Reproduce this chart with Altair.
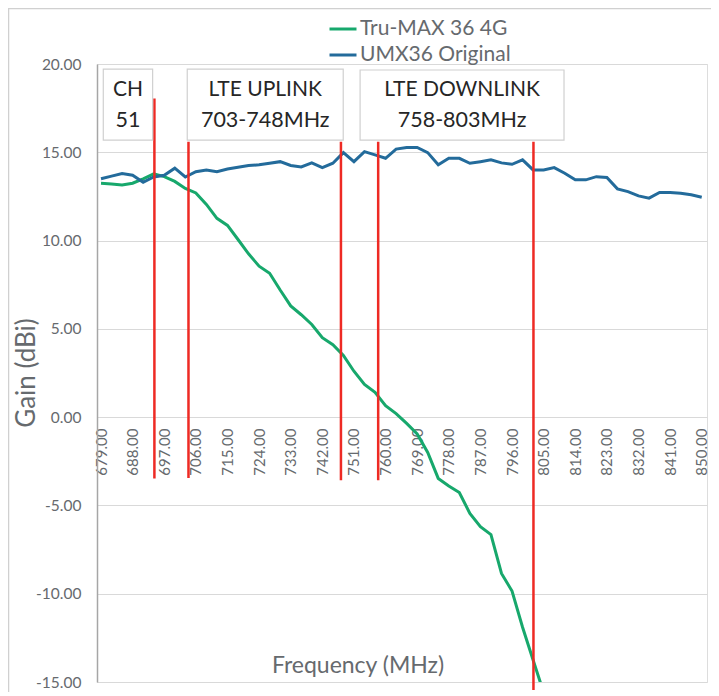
import altair as alt
import pandas as pd

freqs = [679, 682, 685, 688, 691, 694, 697, 700, 703, 706, 709, 712, 715, 718, 721,
         724, 727, 730, 733, 736, 739, 742, 745, 748, 751, 754, 757, 760, 763, 766,
         769, 772, 775, 778, 781, 784, 787, 790, 793, 796, 799, 802, 805, 808, 811,
         814, 817, 820, 823, 826, 829, 832, 835, 838, 841, 844, 847, 850]

umx36 = [13.50, 13.65, 13.80, 13.70, 13.30, 13.60, 13.70, 14.10, 13.60, 13.90,
         14.00, 13.90, 14.05, 14.15, 14.25, 14.29, 14.38, 14.47, 14.25, 14.17,
         14.40, 14.13, 14.38, 14.98, 14.47, 15.04, 14.85, 14.66, 15.18, 15.27,
         15.27, 14.98, 14.29, 14.66, 14.66, 14.38, 14.47, 14.57, 14.40, 14.32,
         14.57, 14.00, 14.00, 14.13, 13.81, 13.44, 13.44, 13.62, 13.57, 12.93,
         12.77, 12.53, 12.40, 12.72, 12.72, 12.68, 12.59, 12.45]

trumax = [13.25, 13.21, 13.15, 13.25, 13.50, 13.78, 13.62, 13.35, 12.95, 12.70,
          12.05, 11.26, 10.86, 10.06, 9.25, 8.55, 8.15, 7.20, 6.30, 5.80,
          5.25, 4.50, 4.10, 3.50, 2.60, 1.85, 1.40, 0.65, 0.20, -0.35,
          -0.95, -2.00, -3.47, -3.90, -4.27, -5.45, -6.20, -6.65, -8.85, -9.85,
          -11.90, -13.75, -15.60]

series_names = ["Tru-MAX 36 4G", "UMX36 Original"]
series_colors = ["#17A86C", "#236B9B"]

tick_freqs = [679, 688, 697, 706, 715, 724, 733, 742, 751, 760, 769, 778, 787,
              796, 805, 814, 823, 832, 841, 850]
gain_ticks = [-15, -10, -5, 0, 5, 10, 15, 20]

# red marker lines (MHz, top gain, bottom gain)
marker_freq = [694.2, 703.9, 747.3, 757.9, 802.1]
marker_top = [18.05, 15.59, 15.59, 15.59, 15.59]
marker_bottom = [-3.47, -3.44, -3.57, -3.57, -15.46]

# annotation boxes
box_x1 = [679.65, 703.55, 752.75]
box_x2 = [693.7, 747.95, 810.8]
box_top = [19.71, 19.71, 19.66]
box_bottom = [15.69, 15.69, 15.69]
box_line1 = ["CH", "LTE UPLINK", "LTE DOWNLINK"]
box_line2 = ["51", "703-748MHz", "758-803MHz"]

rows = []
for f, g in zip(freqs, trumax):
    rows.append({"freq": f, "gain": g, "series": series_names[0]})
for f, g in zip(freqs, umx36):
    rows.append({"freq": f, "gain": g, "series": series_names[1]})
df = pd.DataFrame(rows)

markers = pd.DataFrame({"freq": marker_freq, "top": marker_top, "bottom": marker_bottom})
boxes = pd.DataFrame({"x1": box_x1, "x2": box_x2, "top": box_top, "bottom": box_bottom,
                      "l1": box_line1, "l2": box_line2})
boxes["xc"] = (boxes["x1"] + boxes["x2"]) / 2

FONT = "Lato"
GRAY = "#666A6E"
W, H = 610, 618
ymin, ymax = -15, 20
zero_offset = -(H * (0 - ymin) / (ymax - ymin))
zero_from_top = H * (ymax - 0) / (ymax - ymin)

xscale = alt.Scale(domain=[677.86, 851.5], nice=False, zero=False)
yscale = alt.Scale(domain=[ymin, ymax], nice=False, zero=False)

x_axis = alt.Axis(values=tick_freqs, format=".2f", labelAngle=-90, labelFontSize=15,
                  labelColor=GRAY, labelFont=FONT, ticks=False, domain=False, grid=False,
                  offset=zero_offset, labelPadding=11, labelFlush=False, labelOverlap=False,
                  labelBound=False, labelSeparation=0,
                  title="Frequency (MHz)", titleFontSize=23, titleColor=GRAY, titleFont=FONT,
                  titleFontWeight="normal", titleX=260.5, titleY=601 - zero_from_top,
                  titleAlign="center", titleBaseline="middle")
y_axis = alt.Axis(values=gain_ticks, format=".2f",
                  labelExpr="replace(format(datum.value, '.2f'), '\u2212', '-')",
                  grid=True, gridColor="#D9D9D9",
                  gridWidth=1, domainColor="#A6A6A6", domainWidth=1.5, ticks=False,
                  labelPadding=16, labelFontSize=15.5, labelColor=GRAY, labelFont=FONT,
                  title="Gain (dBi)", titleFontSize=26, titleColor=GRAY, titleFont=FONT,
                  titleFontWeight="normal", titleX=-71, titleY=308.5, titleAngle=270,
                  titleAlign="center", titleBaseline="middle")

lines = alt.Chart(df).mark_line(strokeWidth=3, clip=True).encode(
    x=alt.X("freq:Q", scale=xscale, axis=x_axis),
    y=alt.Y("gain:Q", scale=yscale, axis=y_axis),
    color=alt.Color("series:N",
                    scale=alt.Scale(domain=series_names, range=series_colors),
                    sort=series_names,
                    legend=alt.Legend(orient="none", legendX=231, legendY=-50, title=None,
                                      symbolType="stroke", symbolSize=729,
                                      symbolStrokeWidth=3, labelFontSize=21,
                                      labelColor=GRAY, labelFont=FONT, rowPadding=1,
                                      padding=0, labelOffset=2)),
    detail="series:N",
)

rules = alt.Chart(markers).mark_rule(color="#EE2A24", strokeWidth=2.5).encode(
    x=alt.X("freq:Q", scale=xscale, axis=x_axis),
    y=alt.Y("top:Q", scale=yscale, axis=y_axis),
    y2="bottom:Q",
)

box_rects = alt.Chart(boxes).mark_rect(fill="white", stroke="#D0D0D0", strokeWidth=1.2).encode(
    x=alt.X("x1:Q", scale=xscale, axis=x_axis),
    x2="x2:Q",
    y=alt.Y("top:Q", scale=yscale, axis=y_axis),
    y2="bottom:Q",
)

text1 = alt.Chart(boxes).mark_text(font=FONT, fontSize=21, color="#262626",
                                   baseline="middle", align="center").encode(
    x=alt.X("xc:Q", scale=xscale, axis=x_axis), y=alt.value(90 - 64), text="l1:N")
text2 = alt.Chart(boxes).mark_text(font=FONT, fontSize=21.5, color="#262626",
                                   baseline="middle", align="center").encode(
    x=alt.X("xc:Q", scale=xscale, axis=x_axis), y=alt.value(121 - 64), text="l2:N")

frame = alt.Chart(alt.Data(values=[{}])).mark_rect(filled=False, stroke="#D0D0D0",
                                                   strokeWidth=1.5).encode(
    x=alt.value(-88.5), x2=alt.value(760), y=alt.value(-55.5), y2=alt.value(760))

chart = alt.layer(frame, lines, rules, box_rects, text1, text2).properties(
    width=W, height=H,
    autosize=alt.AutoSizeParams(type="none"),
    padding={"left": 89, "top": 56, "right": 4, "bottom": 10},
).configure_view(stroke=None).configure(font=FONT).configure_axisX(labelOverlap=False)

chart.save("out.html", embed_options={"renderer": "svg", "actions": False})
